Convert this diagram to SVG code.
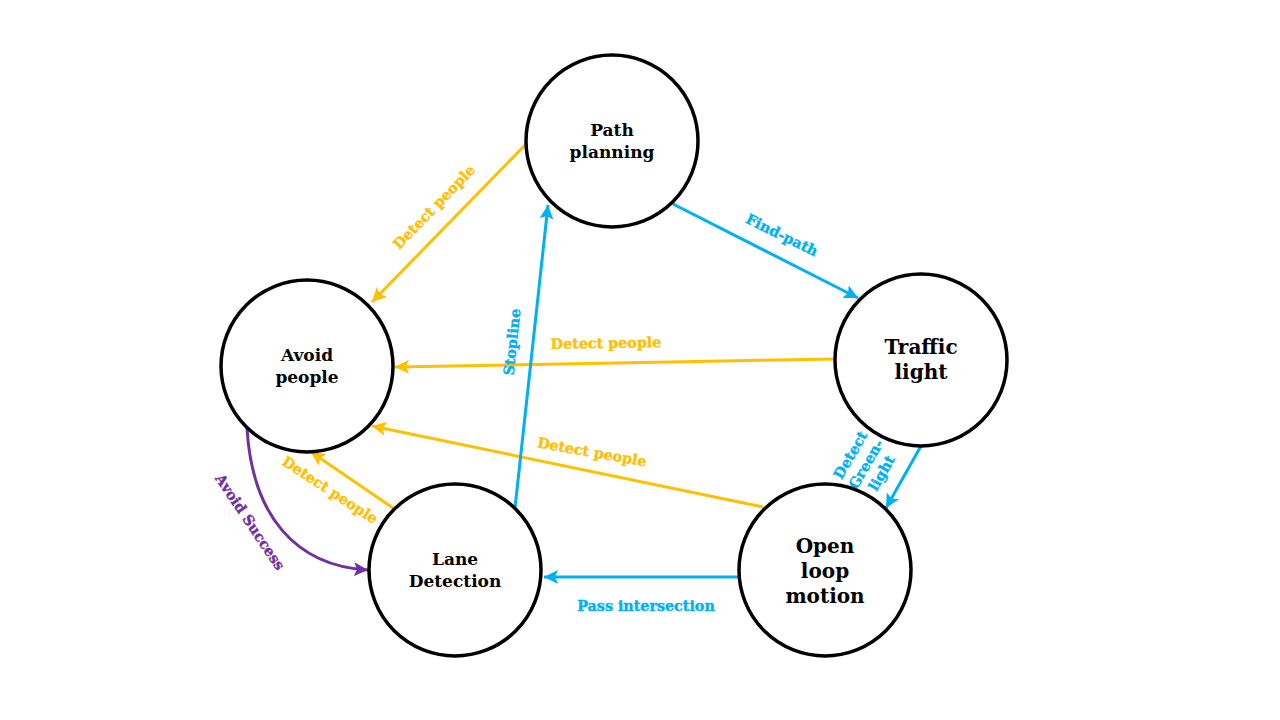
<svg xmlns="http://www.w3.org/2000/svg" width="1280" height="720" viewBox="0 0 1280 720">
<style>
.node circle{fill:#fff;stroke:#000;stroke-width:3.5}
.nt{font-family:"DejaVu Serif","Liberation Serif",serif;font-weight:bold;fill:#000;text-anchor:middle}
.lbl{font-family:"DejaVu Serif","Liberation Serif",serif;font-weight:bold;font-size:14.3px;text-anchor:middle;dominant-baseline:central;stroke-width:0.4}
.y{stroke:#FFC000;fill:none;stroke-width:3}
.b{stroke:#00B0F0;fill:none;stroke-width:3}
.p{stroke:#7030A0;fill:none;stroke-width:3}
.ty{fill:#FFC000;stroke:#FFC000}.tb{fill:#00B0F0;stroke:#00B0F0}.tp{fill:#7030A0;stroke:#7030A0}
</style>
<defs>
<marker id="ay" markerUnits="userSpaceOnUse" markerWidth="16" markerHeight="14" refX="14" refY="7" orient="auto"><path d="M0,0 L14,7 L0,14 L3,7 Z" fill="#FFC000"/></marker>
<marker id="ab" markerUnits="userSpaceOnUse" markerWidth="16" markerHeight="14" refX="14" refY="7" orient="auto"><path d="M0,0 L14,7 L0,14 L3,7 Z" fill="#00B0F0"/></marker>
<marker id="ap" markerUnits="userSpaceOnUse" markerWidth="16" markerHeight="14" refX="14" refY="7" orient="auto"><path d="M0,0 L14,7 L0,14 L3,7 Z" fill="#7030A0"/></marker>
</defs>
<rect width="1280" height="720" fill="#fff"/>
<g id="connectors">
<line class="y" x1="527" y1="143" x2="372" y2="302" marker-end="url(#ay)"/>
<line class="b" x1="673" y1="204" x2="858" y2="298" marker-end="url(#ab)"/>
<line class="y" x1="834" y1="359" x2="395" y2="367" marker-end="url(#ay)"/>
<line class="y" x1="763" y1="507" x2="372" y2="426" marker-end="url(#ay)"/>
<line class="y" x1="393" y1="508" x2="311" y2="452" marker-end="url(#ay)"/>
<line class="b" x1="515" y1="508" x2="548" y2="205" marker-end="url(#ab)"/>
<line class="b" x1="921" y1="446" x2="886" y2="508" marker-end="url(#ab)"/>
<line class="b" x1="739" y1="577" x2="544" y2="577" marker-end="url(#ab)"/>
<path class="p" d="M247,428 C252,515 295,566 368,570" marker-end="url(#ap)"/>
<text class="lbl ty" transform="translate(434,207) rotate(-46)">Detect people</text>
<text class="lbl tb" transform="translate(782,235) rotate(26)">Find-path</text>
<text class="lbl ty" transform="translate(606,343) rotate(-1)">Detect people</text>
<text class="lbl ty" transform="translate(592,452) rotate(10)">Detect people</text>
<text class="lbl ty" transform="translate(330,490) rotate(33)">Detect people</text>
<text class="lbl tb" transform="translate(512,342) rotate(-84)">Stopline</text>
<text class="lbl tb" transform="translate(866,464) rotate(-60)"><tspan x="0" y="-18">Detect</tspan><tspan x="0" y="0">Green-</tspan><tspan x="0" y="18">light</tspan></text>
<text class="lbl tb" x="646" y="606">Pass intersection</text>
<text class="lbl tp" transform="translate(250,522) rotate(56)">Avoid Success</text>
</g>
<g id="path-planning" class="node"><circle cx="612" cy="141" r="86"/><text class="nt" font-size="17" x="612" y="136">Path</text><text class="nt" font-size="17" x="612" y="158">planning</text></g>
<g id="avoid-people" class="node"><circle cx="307" cy="366" r="86"/><text class="nt" font-size="17" x="307" y="361">Avoid</text><text class="nt" font-size="17" x="307" y="383">people</text></g>
<g id="traffic-light" class="node"><circle cx="921" cy="360" r="86"/><text class="nt" font-size="20" x="921" y="354">Traffic</text><text class="nt" font-size="20" x="921" y="379">light</text></g>
<g id="lane-detection" class="node"><circle cx="455" cy="570" r="86"/><text class="nt" font-size="17" x="455" y="565">Lane</text><text class="nt" font-size="17" x="455" y="587">Detection</text></g>
<g id="open-loop-motion" class="node"><circle cx="825" cy="570" r="86"/><text class="nt" font-size="20" x="825" y="553">Open</text><text class="nt" font-size="20" x="825" y="578">loop</text><text class="nt" font-size="20" x="825" y="603">motion</text></g>
</svg>
